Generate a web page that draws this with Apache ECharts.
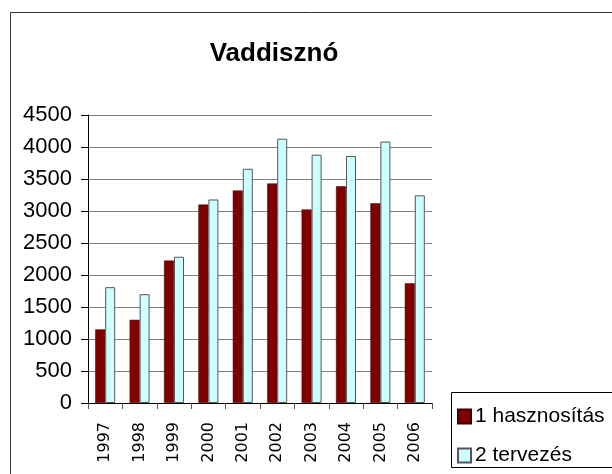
<!DOCTYPE html>
<html>
<head>
<meta charset="utf-8">
<script src="https://cdn.jsdelivr.net/npm/echarts@6/dist/echarts.min.js"></script>
<style>
	html, body { margin: 0; padding: 0; background: #fff; }
	#chart { width: 612px; height: 474px; }
</style>
</head>
<body>
<div id="chart"></div>
<script>
	// adatok
	var years = ['1997', '1998', '1999', '2000', '2001', '2002', '2003', '2004', '2005', '2006'];
	var hasznositas = [1150, 1300, 2225, 3100, 3320, 3430, 3025, 3385, 3120, 1870];
	var tervezes = [1810, 1700, 2285, 3180, 3660, 4130, 3880, 3860, 4085, 3245];
	var seriesNames = ['1 hasznosítás', '2 tervezés'];
	var chartTitle = 'Vaddisznó';

	var font = 'Liberation Sans, Arial, sans-serif';
	var chart = echarts.init(document.getElementById('chart'), null, { renderer: 'canvas' });

	var options = {
		animation: false,
		backgroundColor: '#fff',
		title: {
			text: chartTitle,
			left: 269,
			top: 36,
			textAlign: 'center',
			textStyle: { fontFamily: font, fontSize: 26, fontWeight: 'bold', color: '#000' }
		},
		graphic: [
			{ // keret
				type: 'rect',
				shape: { x: 10.5, y: 12.5, width: 700, height: 600 },
				style: { fill: 'none', stroke: '#333', lineWidth: 1 },
				z: 0
			},
			{ // jelmagyarázat keret
				type: 'rect',
				shape: { x: 451.5, y: 392.5, width: 300, height: 75 },
				style: { fill: '#fff', stroke: '#000', lineWidth: 1 },
				z: 1
			}
		],
		legend: {
			orient: 'vertical',
			left: 452,
			top: 401,
			itemWidth: 13,
			itemHeight: 14,
			itemGap: 18,
			icon: 'rect',
			z: 5,
			textStyle: { fontFamily: font, fontSize: 21, color: '#000', padding: [0, 0, 0, -1] },
			data: seriesNames
		},
		grid: {
			left: 88,
			right: 180,
			top: 115,
			bottom: 71
		},
		xAxis: {
			type: 'category',
			data: years,
			axisLine: { lineStyle: { color: '#000', width: 1 } },
			axisTick: { show: true, length: 6, lineStyle: { color: '#555' } },
			axisLabel: {
				rotate: 90,
				margin: 19,
				fontFamily: 'DejaVu Sans, sans-serif',
				fontSize: 16,
				color: '#000'
			}
		},
		yAxis: {
			type: 'value',
			min: 0,
			max: 4500,
			interval: 500,
			axisLine: { show: true, lineStyle: { color: '#000', width: 1 } },
			axisTick: { show: true, length: 7, lineStyle: { color: '#000' } },
			splitLine: { show: true, lineStyle: { color: '#808080', width: 1 } },
			axisLabel: {
				fontFamily: font,
				fontSize: 22,
				color: '#000',
				margin: 16,
				formatter: function (v) { return String(v); }
			}
		},
		series: [
			{
				name: seriesNames[0],
				type: 'bar',
				data: hasznositas,
				barWidth: 10,
				barGap: '0%',
				itemStyle: { color: '#800000', borderColor: '#400000', borderWidth: 0.5 }
			},
			{
				name: seriesNames[1],
				type: 'bar',
				data: tervezes,
				barWidth: 10,
				itemStyle: { color: '#ccffff', borderColor: '#555', borderWidth: 1 }
			}
		]
	};
	chart.setOption(options);
</script>
</body>
</html>
